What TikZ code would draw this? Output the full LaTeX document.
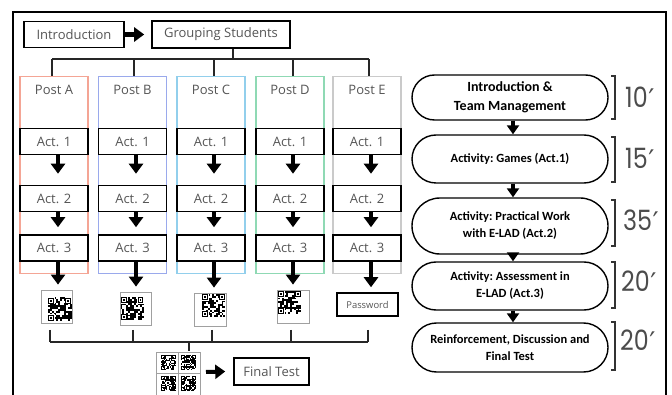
\documentclass[tikz,border=0pt]{standalone}
\usepackage{fontspec}
\usepackage{graphicx}
\setmainfont{Open Sans}
\newfontfamily\boxfont{Carlito}
\newfontfamily\numfont{Poppins}
\newfontfamily\primefont{DejaVu Sans}
\usetikzlibrary{arrows.meta,shapes.misc,calc}

\definecolor{txtgray}{HTML}{555555}
\definecolor{postA}{HTML}{F4A595}
\definecolor{postB}{HTML}{9AA9EC}
\definecolor{postC}{HTML}{92CFEC}
\definecolor{postD}{HTML}{8FD9B4}
\definecolor{postE}{HTML}{CACACA}
\definecolor{qrgray}{HTML}{A0A0A0}

\newcommand{\qrpattern}[4]{% #1 x, #2 y, #3 cell, #4 seed
  \pgfmathsetseed{#4}%
  \foreach \i in {0,...,11}{%
    \foreach \j in {0,...,11}{%
      \pgfmathrandominteger{\qrr}{0}{4}%
      \ifnum\qrr>1\relax
        \fill[black] ({#1+\i*#3},{#2+\j*#3}) rectangle ++(#3,#3);
      \fi
    }%
  }%
  \foreach \fx/\fy in {0/0,8.5/0,0/8.5}{%
    \fill[white] ({#1+\fx*#3},{#2+\fy*#3}) rectangle ++({3.5*#3},{3.5*#3});
    \fill[black] ({#1+(\fx+0.25)*#3},{#2+(\fy+0.25)*#3}) rectangle ++({3*#3},{3*#3});
    \fill[white] ({#1+(\fx+0.75)*#3},{#2+(\fy+0.75)*#3}) rectangle ++({2*#3},{2*#3});
    \fill[black] ({#1+(\fx+1.25)*#3},{#2+(\fy+1.25)*#3}) rectangle ++({1*#3},{1*#3});
  }%
}
\newcommand{\mins}[1]{\scalebox{0.85}[1]{#1}\hspace{0.5pt}{\primefont\fontsize{27}{29}\selectfont\raisebox{-1pt}{′}}}

\tikzset{
  lbox/.style={draw, line width=1.6pt, text=txtgray, inner sep=0pt,
    font=\fontsize{13}{15}\selectfont},
  actbox/.style={lbox, minimum width=68pt, minimum height=26pt},
  postbox/.style={draw=#1, line width=1.3pt, minimum width=68pt, minimum height=197pt,
    anchor=north, inner sep=0pt},
  postlabel/.style={text=txtgray, font=\fontsize{13}{15}\selectfont, inner sep=0pt},
  qrbox/.style={draw=qrgray, line width=0.8pt, inner sep=0pt, fill=white},
  fat/.style={line width=4pt, -{Triangle[length=10pt,width=14pt]}},
  rfat/.style={line width=3.5pt, -{Triangle[length=9pt,width=12pt]}},
  conn/.style={line width=1.3pt, draw=black!85},
  rbox/.style={rounded rectangle, draw, line width=1.4pt, minimum width=196pt,
    align=center, inner sep=0pt, font=\boxfont\bfseries\frenchspacing\fontsize{12.5}{17}\selectfont},
  brk/.style={line width=1.2pt, draw=black!80},
  num/.style={anchor=west, text=black!70, inner sep=0pt,
    font=\numfont\fontsize{28}{30}\selectfont},
}

\begin{document}
\begin{tikzpicture}[x=1pt,y=-1pt]
\useasboundingbox (0,0) rectangle (672,395);
\fill[white] (0,0) rectangle (672,395);

% outer frame
\draw[line width=1.5pt] (13,397) -- (13,12) -- (666,12) -- (666,397);

% top row
\node[lbox, minimum width=100pt, minimum height=26pt] (intro) at (74,34.5) {Introduction};
\node[lbox, minimum width=138pt, minimum height=27pt] (grp) at (221,34.5) {Grouping Students};
\draw[fat, line width=5pt] (intro.east) -- ($(grp.west)+(-7,0)$);

% distribution bus
\coordinate (gdrop) at (233,59);
\draw[conn] (grp.south -| gdrop) -- (gdrop);
\draw[conn] (52,59) -- (369,59);

% posts
\foreach \n/\cx/\ax/\tx/\bx/\col in {A/54/58/52/50/postA, B/132.5/136/134/133/postB,
    C/211/214/214/212/postC, D/290/293/293/291/postD, E/367/371/369/368/postE}{
  \node[postbox=\col] (p\n) at (\cx,76) {};
  \node[postlabel] (l\n) at (\cx,90) {Post \n};
  \draw[conn] (\tx,59) -- (p\n.north -| \tx,0);
  \node[actbox] (a1\n) at (\cx,141.5) {Act. 1};
  \node[actbox] (a2\n) at (\cx,198.5) {Act. 2};
  \node[actbox] (a3\n) at (\cx,248) {Act. 3};
  \draw[fat, shorten >=11pt] (a1\n.south -| \ax,0) -- (a2\n.north -| \ax,0);
  \draw[fat, shorten >=7pt] (a2\n.south -| \ax,0) -- (a3\n.north -| \ax,0);
  \coordinate (t\n) at (\bx,330);
  \coordinate (b\n) at (\bx,342);
  \draw[conn] (t\n) -- (b\n);
}

% QR codes
\node[qrbox, minimum width=31pt, minimum height=33pt] (qA) at (56.5,306.5) {};
\qrpattern{47.5}{297.5}{2}{11}
\node[qrbox, minimum width=31pt, minimum height=33pt] (qB) at (135.5,308.5) {};
\qrpattern{120.5}{297}{1.95}{23}
\node[qrbox, minimum width=32pt, minimum height=33pt] (qC) at (210,309.5) {};
\qrpattern{202}{294}{1.95}{37}
\node[qrbox, minimum width=32pt, minimum height=33pt] (qD) at (293,306.5) {};
\qrpattern{278}{291}{1.95}{53}
\node[lbox, minimum width=61pt, minimum height=23pt, line width=1.5pt,
  font=\fontsize{9.4}{11}\selectfont] (qE) at (367.5,304.5) {Password};

\foreach \n/\ax in {A/58,B/136,C/214,D/293,E/371}{
  \draw[fat, shorten >=5pt] (a3\n.south -| \ax,0) -- (q\n.north -| \ax,0);
}

% collecting bus
\draw[conn] (bA) -- (bE);
\coordinate (fdrop) at (189,351);
\draw[conn] (bA -| fdrop) -- (fdrop);

% final QR composite
\node[qrbox, minimum width=22pt, minimum height=21pt] (f1) at (167,362.5) {};
\node[qrbox, minimum width=22pt, minimum height=21pt] (f2) at (189,362.5) {};
\node[qrbox, minimum width=22pt, minimum height=22pt] (f3) at (167,384) {};
\node[qrbox, minimum width=22pt, minimum height=22pt] (f4) at (189,384) {};
\qrpattern{161}{355}{1.25}{71}
\qrpattern{181}{355}{1.25}{83}
\qrpattern{161}{376}{1.25}{97}
\qrpattern{181}{376}{1.25}{101}

\node[lbox, minimum width=75pt, minimum height=27pt] (final) at (271.5,371.5) {Final Test};
\draw[fat] (206,372) coordinate (fs) -- ($(final.west)+(-8,0)$);

% right flow
\node[rbox, minimum height=45pt, font=\boxfont\bfseries\fontsize{14}{19}\selectfont]
  (r1) at (510,97.5) {Introduction \&\\Team Management};
\node[rbox, minimum height=48pt] (r2) at (510,159) {Activity: Games (Act.1)};
\node[rbox, minimum height=56pt] (r3) at (510,226) {Activity: Practical Work\\with E-LAD (Act.2)};
\node[rbox, minimum height=48pt] (r4) at (510,286) {Activity: Assessment in\\E-LAD (Act.3)};
\node[rbox, minimum height=49pt] (r5) at (510,347.5) {Reinforcement, Discussion and\\Final Test};

\coordinate (rx) at (513,0);
\draw[rfat] (r1.south -| rx) -- (r2.north -| rx);
\draw[rfat] (r2.south -| rx) -- (r3.north -| rx);
\draw[rfat] (r3.south -| rx) -- (r4.north -| rx);
\draw[rfat] (r4.south -| rx) -- (r5.north -| rx);

% brackets and durations
\draw[brk] (611,76) -- (615,76) -- (615,119) -- (611,119);
\draw[brk] (611,137) -- (615,137) -- (615,182) -- (611,182);
\draw[brk] (611,200) -- (615,200) -- (615,246) -- (611,246);
\draw[brk] (611,262) -- (615,262) -- (615,308) -- (611,308);
\draw[brk] (611,322) -- (615,322) -- (615,370) -- (611,370);
\node[num] (d1) at (625,98) {\mins{10}};
\node[num] (d2) at (625,159) {\mins{15}};
\node[num] (d3) at (623,221) {\mins{35}};
\node[num] (d4) at (621,282) {\mins{20}};
\node[num] (d5) at (620,341) {\mins{20}};
\end{tikzpicture}
\end{document}
